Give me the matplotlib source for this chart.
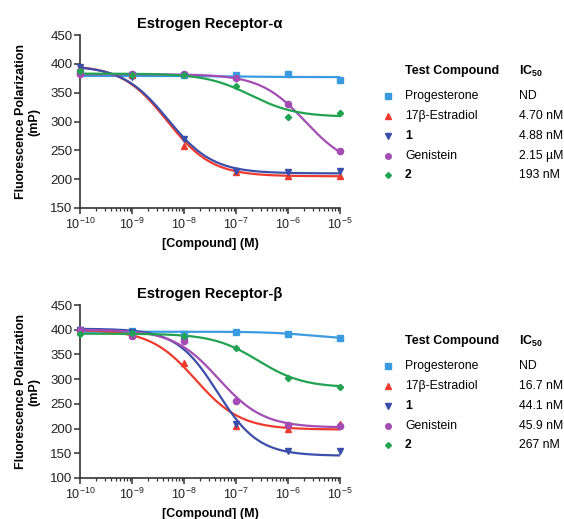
import numpy as np
import matplotlib
matplotlib.use('Agg')
import matplotlib.pyplot as plt
from matplotlib.ticker import LogLocator, LogFormatterSciNotation, MultipleLocator

plt.rcParams['font.family'] = ['Liberation Sans', 'DejaVu Sans']
plt.rcParams['mathtext.fontset'] = 'custom'
plt.rcParams['mathtext.rm'] = 'Liberation Sans'
plt.rcParams['mathtext.bf'] = 'Liberation Sans:bold'

# ── Data ──────────────────────────────────────────────────────────────────
conc = [1e-10, 1e-9, 1e-8, 1e-7, 1e-6, 1e-5]

compounds = ['Progesterone', '17β-Estradiol', '1', 'Genistein', '2']
colors    = ['#3b9be0', '#ee3b2e', '#3b4faa', '#a34db4', '#22a352']
markers   = ['s', '^', 'v', 'o', 'D']
bold_name = [False, False, True, False, True]

# ER-alpha measured points (mP)
alpha_pts = {
    'Progesterone':  [385, 380, 380, 380, 382, 372],
    '17β-Estradiol': [393, 380, 257, 212, 205, 205],
    '1':             [395, 378, 270, 215, 213, 214],
    'Genistein':     [382, 382, 383, 375, 330, 248],
    '2':             [388, 380, 380, 362, 307, 315],
}
# fit parameters: top, bottom, IC50 (M), hill
alpha_fit = {
    'Progesterone':  [379, 377, 1e-7, 1.0],
    '17β-Estradiol': [398, 205, 4.7e-9, 1.0],
    '1':             [397, 210, 4.9e-9, 1.0],
    'Genistein':     [382, 218, 2.15e-6, 1.0],
    '2':             [383, 308, 1.93e-7, 1.0],
}
alpha_ic50 = ['ND', '4.70 nM', '4.88 nM', '2.15 µM', '193 nM']

# ER-beta measured points (mP)
beta_pts = {
    'Progesterone':  [400, 397, 392, 395, 392, 383],
    '17β-Estradiol': [398, 390, 333, 205, 200, 210],
    '1':             [400, 395, 378, 210, 155, 155],
    'Genistein':     [400, 387, 378, 255, 208, 205],
    '2':             [392, 393, 388, 362, 303, 285],
}
beta_fit = {
    'Progesterone':  [396, 380, 3e-6, 1.0],
    '17β-Estradiol': [400, 198, 1.67e-8, 1.0],
    '1':             [402, 145, 4.41e-8, 1.1],
    'Genistein':     [400, 202, 4.59e-8, 1.0],
    '2':             [392, 283, 2.67e-7, 1.0],
}
beta_ic50 = ['ND', '16.7 nM', '44.1 nM', '45.9 nM', '267 nM']


def logistic(x, top, bottom, ic50, hill):
    return bottom + (top - bottom) / (1 + (x / ic50) ** hill)


def draw_panel(fig, rect, title, pts, fit, ylim):
    ax = fig.add_axes(rect)
    xs = np.logspace(-10, -5, 300)
    for name, c, m in zip(compounds, colors, markers):
        ax.plot(xs, logistic(xs, *fit[name]), color=c, lw=1.6, zorder=2)
        ax.plot(conc, pts[name], ls='none', marker=m, color=c,
                ms=4.5 if m != 'D' else 3.2, clip_on=False, zorder=3)
    ax.set_xscale('log')
    ax.set_xlim(1e-10, 1e-5)
    ax.set_ylim(*ylim)
    ax.yaxis.set_major_locator(MultipleLocator(50))
    ax.xaxis.set_major_locator(LogLocator(base=10, numticks=10))
    ax.xaxis.set_minor_locator(LogLocator(base=10, subs=np.arange(2, 10), numticks=20))
    ax.xaxis.set_major_formatter(LogFormatterSciNotation())
    for s in ['top', 'right']:
        ax.spines[s].set_visible(False)
    for s in ['left', 'bottom']:
        ax.spines[s].set_linewidth(1.2)
        ax.spines[s].set_color('#333333')
    ax.tick_params(axis='y', which='major', labelsize=9.5, width=1.1,
                   length=4, color='#333333', labelcolor='#222222', pad=1.5)
    ax.tick_params(axis='x', which='major', labelsize=9, width=1.1,
                   length=4, color='#333333', labelcolor='#222222', pad=2)
    ax.tick_params(axis='x', which='minor', width=0.9, length=2.5, color='#333333')
    ax.set_title(title, fontsize=10.5, fontweight='bold', pad=5)
    ax.set_ylabel('Fluorescence Polarization\n(mP)', fontsize=9,
                  fontweight='bold', labelpad=7)
    ax.set_xlabel('[Compound] (M)', fontsize=9, fontweight='bold', labelpad=5)
    return ax


def draw_legend(fig, y_head, ic50_vals):
    W, H = 564, 519
    fx = lambda px: px / W
    fy = lambda py: 1 - py / H
    fig.text(fx(405), fy(y_head), 'Test Compound', fontsize=9,
             fontweight='bold', va='center', ha='left')
    fig.text(fx(519), fy(y_head), r'$\mathbf{IC_{50}}$', fontsize=9,
             va='center', ha='left')
    row_y = [y_head + 25, y_head + 45, y_head + 65, y_head + 85, y_head + 104]
    for name, c, m, b, val, ry in zip(compounds, colors, markers,
                                      bold_name, ic50_vals, row_y):
        fig.add_artist(plt.Line2D([fx(388)], [fy(ry)], marker=m, color=c,
                                  ms=4 if m != 'D' else 3, ls='none',
                                  transform=fig.transFigure))
        fig.text(fx(405), fy(ry), name, fontsize=8.8, va='center', ha='left',
                 fontweight='bold' if b else 'normal')
        fig.text(fx(519), fy(ry), val, fontsize=8.8, va='center', ha='left')


fig = plt.figure(figsize=(5.64, 5.19), dpi=100)

draw_panel(fig, [80 / 564, 1 - 208 / 519, 260 / 564, 173 / 519],
           'Estrogen Receptor-α', alpha_pts, alpha_fit, (150, 450))
draw_panel(fig, [80 / 564, 1 - 478 / 519, 260 / 564, 173 / 519],
           'Estrogen Receptor-β', beta_pts, beta_fit, (100, 450))

draw_legend(fig, 71, alpha_ic50)
draw_legend(fig, 341, beta_ic50)

fig.savefig('out.png', dpi=100)
